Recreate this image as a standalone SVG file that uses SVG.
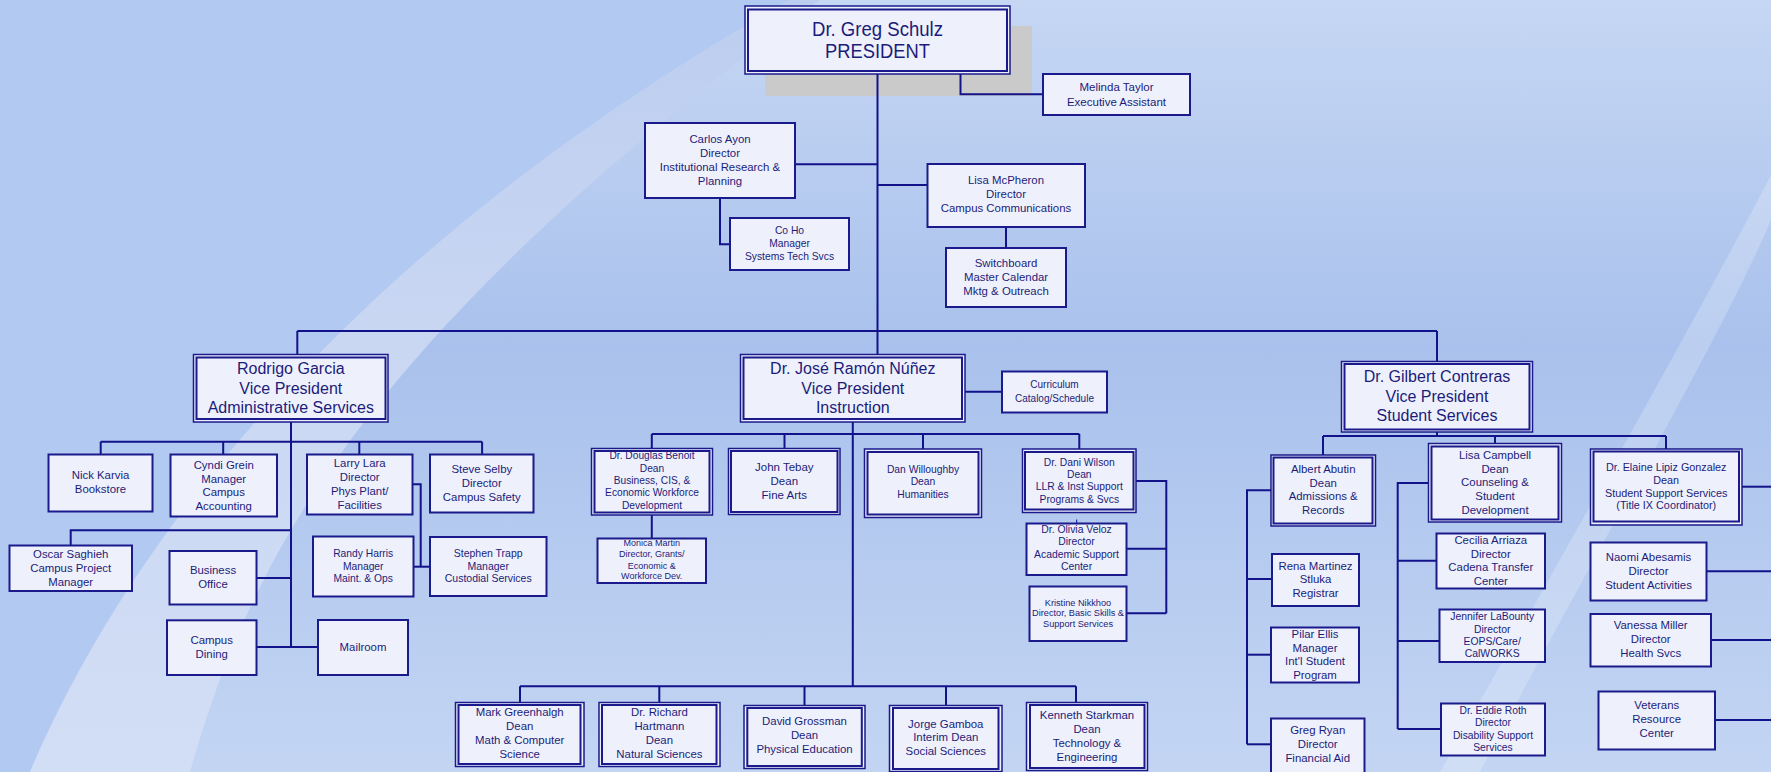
<svg xmlns="http://www.w3.org/2000/svg" width="1771" height="772" viewBox="0 0 1771 772">
<defs>
<linearGradient id="bgGrad" x1="0" y1="0" x2="0" y2="772" gradientUnits="userSpaceOnUse">
<stop offset="0" stop-color="#c6d7f4"/>
<stop offset="0.45" stop-color="#a9c1ec"/>
<stop offset="1" stop-color="#c3d5f3"/>
</linearGradient>
<linearGradient id="bandGrad" x1="0" y1="0" x2="0" y2="772" gradientUnits="userSpaceOnUse">
<stop offset="0" stop-color="#bccdef"/>
<stop offset="0.5" stop-color="#cbd8f3"/>
<stop offset="1" stop-color="#d2def5"/>
</linearGradient>
<style>
.b{fill:#eef1fb;stroke:#1a1a8c;stroke-width:2}
.bo{fill:#eef1fb;stroke:#1a1a8c;stroke-width:1.5}
.bi{fill:none;stroke:#1a1a8c;stroke-width:2}
.conn path{fill:none;stroke:#12128a;stroke-width:2}
text{font-family:"Liberation Sans",Arial,Helvetica,sans-serif;fill:#1c1c7a;text-anchor:middle}
.f16{font-size:16px}
.f115{font-size:11.5px}
.f114{font-size:11.4px}
.f108{font-size:10.8px}
.f105{font-size:10.5px}
.f104{font-size:10.4px}
.f103{font-size:10.3px}
.f102{font-size:10.2px}
.f10{font-size:10px}
.f92{font-size:9.2px}
.f9{font-size:9px}
</style>
</defs>
<g id="background">
<rect width="1771" height="772" fill="url(#bgGrad)"/>
<path d="M0 0 L790 0 C330 260 120 560 30 772 L0 772 Z" fill="#b2c9f2"/>
<path d="M790 0 C330 260 120 560 30 772 L190 772 C250 560 360 340 820 0 Z" fill="url(#bandGrad)"/>
<path d="M1771 175 C1690 330 1560 560 1440 772 L1480 772 C1590 560 1715 350 1771 220 Z" fill="#ffffff" opacity="0.22"/>
<rect x="765" y="26" width="267" height="70" fill="#cacaca"/>
</g>
<g class="conn" id="connectors">
<path d="M877.5 74 V354.5"/>
<path d="M960.5 74 V94.3 H1043"/>
<path d="M795 164.3 H877.5"/>
<path d="M720 198 V244.3 H730"/>
<path d="M877.5 185 H927.5"/>
<path d="M1006 227 V248"/>
<path d="M297.3 331 H1437"/>
<path d="M297.3 331 V354.5"/>
<path d="M1437 331 V361.5"/>
<path d="M291 422 V647"/>
<path d="M100.7 441.7 H482.1"/>
<path d="M100.7 441.7 V454.5"/>
<path d="M223.2 441.7 V454.5"/>
<path d="M359.3 441.7 V454.5"/>
<path d="M482.1 441.7 V454.5"/>
<path d="M291 530.3 H70.7 V545.5"/>
<path d="M256.5 578 H291"/>
<path d="M256.5 647 H318"/>
<path d="M412.5 484.3 H420.7 V566.7"/>
<path d="M413.5 566.7 H430"/>
<path d="M852.8 422 V686.3"/>
<path d="M965 391.7 H1002"/>
<path d="M651.8 434 H1079.3"/>
<path d="M651.8 434 V448.5"/>
<path d="M784.5 434 V448.5"/>
<path d="M923 434 V449"/>
<path d="M1079.3 434 V449"/>
<path d="M651.8 515 V538.5"/>
<path d="M1136 481 H1166.3 V613.3"/>
<path d="M1126.5 548.7 H1166.3"/>
<path d="M1126.5 613.3 H1166.3"/>
<path d="M1076.7 519.5 V523.5" style="stroke-width:1"/>
<path d="M520 686.3 H1076"/>
<path d="M520 686.3 V702.5"/>
<path d="M659.3 686.3 V702.5"/>
<path d="M804.5 686.3 V705.5"/>
<path d="M946 686.3 V705.5"/>
<path d="M1076 686.3 V702.5"/>
<path d="M1437 432 V436"/>
<path d="M1323 436 H1666"/>
<path d="M1323 436 V455"/>
<path d="M1495 436 V443.5"/>
<path d="M1666 436 V449"/>
<path d="M1271 490.3 H1247 V744.3"/>
<path d="M1247 579 H1272"/>
<path d="M1247 654.7 H1271"/>
<path d="M1247 744.3 H1271"/>
<path d="M1428.5 483 H1397.7 V729"/>
<path d="M1397.7 560.7 H1436.5"/>
<path d="M1397.7 641 H1439.5"/>
<path d="M1397.7 729 H1441"/>
<path d="M1742 486.7 H1771"/>
<path d="M1706.5 571.3 H1771"/>
<path d="M1711 640 H1771"/>
<path d="M1715 720 H1771"/>
</g>
<g id="president">
<rect class="bo" x="745" y="6" width="265" height="68"/>
<rect class="bi" x="748" y="9.5" width="259" height="61.5"/>
<text style="font-size:20px"><tspan x="877.5" y="35.5" textLength="131" lengthAdjust="spacingAndGlyphs">Dr. Greg Schulz</tspan><tspan x="877.5" y="58" textLength="105" lengthAdjust="spacingAndGlyphs">PRESIDENT</tspan></text>
</g>
<g id="melinda">
<rect class="b" x="1043" y="74" width="147" height="41"/>
<text class="f115"><tspan x="1116.5" y="91">Melinda Taylor</tspan><tspan x="1116.5" y="105.5">Executive Assistant</tspan></text>
</g>
<g id="carlos">
<rect class="b" x="645" y="123" width="150" height="75"/>
<text class="f114"><tspan x="720" y="142.5">Carlos Ayon</tspan><tspan x="720" y="156.5">Director</tspan><tspan x="720" y="170.5">Institutional Research &amp;</tspan><tspan x="720" y="184.5">Planning</tspan></text>
</g>
<g id="coho">
<rect class="b" x="730" y="218" width="119" height="52"/>
<text class="f103"><tspan x="789.5" y="234">Co Ho</tspan><tspan x="789.5" y="247">Manager</tspan><tspan x="789.5" y="259.5">Systems Tech Svcs</tspan></text>
</g>
<g id="lisa-mcpheron">
<rect class="b" x="927.5" y="164" width="157.5" height="63"/>
<text class="f114"><tspan x="1006" y="184">Lisa McPheron</tspan><tspan x="1006" y="198">Director</tspan><tspan x="1006" y="212">Campus Communications</tspan></text>
</g>
<g id="switchboard">
<rect class="b" x="946" y="248" width="120" height="59"/>
<text class="f114"><tspan x="1006" y="266.5">Switchboard</tspan><tspan x="1006" y="280.5">Master Calendar</tspan><tspan x="1006" y="294.5">Mktg &amp; Outreach</tspan></text>
</g>
<g id="rodrigo">
<rect class="bo" x="193.5" y="354.5" width="194.5" height="67.5"/>
<rect class="bi" x="196.5" y="357.5" width="189" height="61.5"/>
<text class="f16"><tspan x="290.8" y="374.3">Rodrigo Garcia</tspan><tspan x="290.8" y="394">Vice President</tspan><tspan x="290.8" y="413.3">Administrative Services</tspan></text>
</g>
<g id="jose">
<rect class="bo" x="740.5" y="354.5" width="224.5" height="67.5"/>
<rect class="bi" x="743.5" y="357.5" width="218.5" height="61.5"/>
<text class="f16"><tspan x="852.8" y="374.3">Dr. José Ramón Núñez</tspan><tspan x="852.8" y="393.5">Vice President</tspan><tspan x="852.8" y="412.7">Instruction</tspan></text>
</g>
<g id="curriculum">
<rect class="b" x="1002" y="371.5" width="105" height="41"/>
<text class="f10"><tspan x="1054.5" y="388.3">Curriculum</tspan><tspan x="1054.5" y="401.7">Catalog/Schedule</tspan></text>
</g>
<g id="gilbert">
<rect class="bo" x="1341.5" y="361.5" width="191" height="70.5"/>
<rect class="bi" x="1344.5" y="364" width="185" height="65.5"/>
<text class="f16"><tspan x="1437" y="382.3">Dr. Gilbert Contreras</tspan><tspan x="1437" y="401.7">Vice President</tspan><tspan x="1437" y="421.3">Student Services</tspan></text>
</g>
<g id="nick">
<rect class="b" x="48.5" y="454.5" width="104" height="57"/>
<text class="f114"><tspan x="100.5" y="479.3">Nick Karvia</tspan><tspan x="100.5" y="493.3">Bookstore</tspan></text>
</g>
<g id="cyndi">
<rect class="b" x="170.5" y="454.5" width="106.5" height="62"/>
<text class="f114"><tspan x="223.7" y="469.3">Cyndi Grein</tspan><tspan x="223.7" y="482.7">Manager</tspan><tspan x="223.7" y="496.3">Campus</tspan><tspan x="223.7" y="510.3">Accounting</tspan></text>
</g>
<g id="larry">
<rect class="b" x="307" y="454.5" width="105.5" height="60"/>
<text class="f114"><tspan x="359.7" y="467.3">Larry Lara</tspan><tspan x="359.7" y="481.3">Director</tspan><tspan x="359.7" y="495.3">Phys Plant/</tspan><tspan x="359.7" y="509.3">Facilities</tspan></text>
</g>
<g id="steve">
<rect class="b" x="430" y="454.5" width="103.5" height="58"/>
<text class="f114"><tspan x="481.8" y="473.3">Steve Selby</tspan><tspan x="481.8" y="487.3">Director</tspan><tspan x="481.8" y="501.3">Campus Safety</tspan></text>
</g>
<g id="oscar">
<rect class="b" x="9.5" y="545.5" width="122.5" height="45.5"/>
<text class="f114"><tspan x="70.7" y="558">Oscar Saghieh</tspan><tspan x="70.7" y="572.3">Campus Project</tspan><tspan x="70.7" y="586.3">Manager</tspan></text>
</g>
<g id="business-office">
<rect class="b" x="169.5" y="551" width="87" height="53.5"/>
<text class="f114"><tspan x="213" y="574.3">Business</tspan><tspan x="213" y="588.3">Office</tspan></text>
</g>
<g id="randy">
<rect class="b" x="313" y="536.5" width="100.5" height="60"/>
<text class="f103"><tspan x="363.2" y="556.7">Randy Harris</tspan><tspan x="363.2" y="570">Manager</tspan><tspan x="363.2" y="582">Maint. &amp; Ops</tspan></text>
</g>
<g id="stephen">
<rect class="b" x="430" y="537" width="116.5" height="59"/>
<text class="f105"><tspan x="488.2" y="556.7">Stephen Trapp</tspan><tspan x="488.2" y="570">Manager</tspan><tspan x="488.2" y="582">Custodial Services</tspan></text>
</g>
<g id="campus-dining">
<rect class="b" x="167" y="620.3" width="89.5" height="54.7"/>
<text class="f114"><tspan x="211.7" y="644">Campus</tspan><tspan x="211.7" y="658.3">Dining</tspan></text>
</g>
<g id="mailroom">
<rect class="b" x="318" y="620" width="90" height="55"/>
<text class="f114"><tspan x="363" y="651.3">Mailroom</tspan></text>
</g>
<g id="douglas">
<rect class="bo" x="591.5" y="448.5" width="121" height="66.5"/>
<rect class="bi" x="594.5" y="451" width="115" height="61.5"/>
<text class="f102"><tspan x="652" y="459">Dr. Douglas Benoit</tspan><tspan x="652" y="471.7">Dean</tspan><tspan x="652" y="484">Business, CIS, &amp;</tspan><tspan x="652" y="496">Economic Workforce</tspan><tspan x="652" y="508.7">Development</tspan></text>
</g>
<g id="monica">
<rect class="b" x="597.5" y="538.5" width="108.5" height="44.5"/>
<text class="f9"><tspan x="651.7" y="546">Monica Martin</tspan><tspan x="651.7" y="557.3">Director, Grants/</tspan><tspan x="651.7" y="568.7">Economic &amp;</tspan><tspan x="651.7" y="579.3">Workforce Dev.</tspan></text>
</g>
<g id="john">
<rect class="bo" x="728.5" y="448.5" width="111.5" height="66"/>
<rect class="bi" x="731" y="451" width="106.5" height="61"/>
<text class="f115"><tspan x="784.3" y="470.7">John Tebay</tspan><tspan x="784.3" y="484.7">Dean</tspan><tspan x="784.3" y="498.7">Fine Arts</tspan></text>
</g>
<g id="dan">
<rect class="bo" x="864.5" y="449" width="117" height="68.5"/>
<rect class="bi" x="867.5" y="452" width="111" height="62.5"/>
<text class="f103"><tspan x="923" y="473.3">Dan Willoughby</tspan><tspan x="923" y="485.3">Dean</tspan><tspan x="923" y="498">Humanities</tspan></text>
</g>
<g id="dani">
<rect class="bo" x="1022.5" y="449" width="113.5" height="63.5"/>
<rect class="bi" x="1025" y="452" width="108.5" height="57.5"/>
<text class="f103"><tspan x="1079.3" y="466">Dr. Dani Wilson</tspan><tspan x="1079.3" y="477.7">Dean</tspan><tspan x="1079.3" y="490.3">LLR &amp; Inst Support</tspan><tspan x="1079.3" y="503">Programs &amp; Svcs</tspan></text>
</g>
<g id="olivia">
<rect class="b" x="1026.5" y="523.5" width="100" height="51.5"/>
<text class="f104"><tspan x="1076.5" y="532.7">Dr. Olivia Veloz</tspan><tspan x="1076.5" y="544.7">Director</tspan><tspan x="1076.5" y="558.3">Academic Support</tspan><tspan x="1076.5" y="570">Center</tspan></text>
</g>
<g id="kristine">
<rect class="b" x="1029.5" y="586.5" width="97" height="54.5"/>
<text class="f92"><tspan x="1078" y="605.7">Kristine Nikkhoo</tspan><tspan x="1078" y="616">Director, Basic Skills &amp;</tspan><tspan x="1078" y="626.7">Support Services</tspan></text>
</g>
<g id="mark">
<rect class="bo" x="455.5" y="702.5" width="128.5" height="64"/>
<rect class="bi" x="458.5" y="705" width="122" height="59"/>
<text class="f114"><tspan x="519.7" y="716.3">Mark Greenhalgh</tspan><tspan x="519.7" y="730.3">Dean</tspan><tspan x="519.7" y="744">Math &amp; Computer</tspan><tspan x="519.7" y="758">Science</tspan></text>
</g>
<g id="richard">
<rect class="bo" x="599" y="702.5" width="121" height="64"/>
<rect class="bi" x="602" y="705" width="114.5" height="59"/>
<text class="f114"><tspan x="659.4" y="716.3">Dr. Richard</tspan><tspan x="659.4" y="730.3">Hartmann</tspan><tspan x="659.4" y="744">Dean</tspan><tspan x="659.4" y="758">Natural Sciences</tspan></text>
</g>
<g id="david">
<rect class="bo" x="744" y="705.5" width="121" height="63"/>
<rect class="bi" x="747.3" y="708" width="114.5" height="58"/>
<text class="f114"><tspan x="804.5" y="725.3">David Grossman</tspan><tspan x="804.5" y="739.3">Dean</tspan><tspan x="804.5" y="753">Physical Education</tspan></text>
</g>
<g id="jorge">
<rect class="bo" x="889.5" y="705.5" width="112.5" height="66"/>
<rect class="bi" x="893" y="708" width="105.5" height="61"/>
<text class="f114"><tspan x="945.8" y="727.7">Jorge Gamboa</tspan><tspan x="945.8" y="741.3">Interim Dean</tspan><tspan x="945.8" y="754.7">Social Sciences</tspan></text>
</g>
<g id="kenneth">
<rect class="bo" x="1026.5" y="702.5" width="121" height="68"/>
<rect class="bi" x="1030" y="705" width="114.5" height="63"/>
<text class="f114"><tspan x="1087" y="719.3">Kenneth Starkman</tspan><tspan x="1087" y="733.3">Dean</tspan><tspan x="1087" y="747.3">Technology &amp;</tspan><tspan x="1087" y="761.3">Engineering</tspan></text>
</g>
<g id="albert">
<rect class="bo" x="1271" y="455" width="104.5" height="71"/>
<rect class="bi" x="1273.5" y="457.5" width="99" height="66"/>
<text class="f114"><tspan x="1323.2" y="472.7">Albert Abutin</tspan><tspan x="1323.2" y="486.7">Dean</tspan><tspan x="1323.2" y="500.3">Admissions &amp;</tspan><tspan x="1323.2" y="514.3">Records</tspan></text>
</g>
<g id="rena">
<rect class="b" x="1272" y="554" width="87" height="52"/>
<text class="f114"><tspan x="1315.5" y="570">Rena Martinez</tspan><tspan x="1315.5" y="583.3">Stluka</tspan><tspan x="1315.5" y="597">Registrar</tspan></text>
</g>
<g id="pilar">
<rect class="b" x="1271" y="627.5" width="88" height="55"/>
<text class="f114"><tspan x="1315" y="638">Pilar Ellis</tspan><tspan x="1315" y="651.7">Manager</tspan><tspan x="1315" y="665">Int'l Student</tspan><tspan x="1315" y="679">Program</tspan></text>
</g>
<g id="greg-ryan">
<rect class="b" x="1271" y="718.5" width="93.5" height="58"/>
<text class="f114"><tspan x="1317.7" y="734">Greg Ryan</tspan><tspan x="1317.7" y="748">Director</tspan><tspan x="1317.7" y="761.7">Financial Aid</tspan></text>
</g>
<g id="lisa-campbell">
<rect class="bo" x="1428.5" y="443.5" width="133" height="78.5"/>
<rect class="bi" x="1431.5" y="446.5" width="127" height="73"/>
<text class="f114"><tspan x="1495" y="459">Lisa Campbell</tspan><tspan x="1495" y="473">Dean</tspan><tspan x="1495" y="486.3">Counseling &amp;</tspan><tspan x="1495" y="500">Student</tspan><tspan x="1495" y="514">Development</tspan></text>
</g>
<g id="cecilia">
<rect class="b" x="1436.5" y="533.5" width="108.5" height="55"/>
<text class="f114"><tspan x="1490.8" y="544">Cecilia Arriaza</tspan><tspan x="1490.8" y="558">Director</tspan><tspan x="1490.8" y="571">Cadena Transfer</tspan><tspan x="1490.8" y="585">Center</tspan></text>
</g>
<g id="jennifer">
<rect class="b" x="1439.5" y="609.5" width="105.5" height="52.5"/>
<text class="f104"><tspan x="1492.2" y="620">Jennifer LaBounty</tspan><tspan x="1492.2" y="633">Director</tspan><tspan x="1492.2" y="645">EOPS/Care/</tspan><tspan x="1492.2" y="656.7">CalWORKS</tspan></text>
</g>
<g id="eddie">
<rect class="b" x="1441" y="703.5" width="104" height="52"/>
<text class="f103"><tspan x="1493" y="714">Dr. Eddie Roth</tspan><tspan x="1493" y="726">Director</tspan><tspan x="1493" y="739">Disability Support</tspan><tspan x="1493" y="751">Services</tspan></text>
</g>
<g id="elaine">
<rect class="bo" x="1590.5" y="449" width="151.5" height="76"/>
<rect class="bi" x="1593.5" y="451.5" width="145.5" height="70"/>
<text class="f108"><tspan x="1666.2" y="470.7">Dr. Elaine Lipiz Gonzalez</tspan><tspan x="1666.2" y="483.7">Dean</tspan><tspan x="1666.2" y="496.7">Student Support Services</tspan><tspan x="1666.2" y="509.3">(Title IX Coordinator)</tspan></text>
</g>
<g id="naomi">
<rect class="b" x="1590.5" y="542.5" width="116" height="58"/>
<text class="f114"><tspan x="1648.5" y="560.7">Naomi Abesamis</tspan><tspan x="1648.5" y="574.7">Director</tspan><tspan x="1648.5" y="588.7">Student Activities</tspan></text>
</g>
<g id="vanessa">
<rect class="b" x="1590.5" y="614" width="120.5" height="52.5"/>
<text class="f114"><tspan x="1650.7" y="629.3">Vanessa Miller</tspan><tspan x="1650.7" y="643.3">Director</tspan><tspan x="1650.7" y="657.3">Health Svcs</tspan></text>
</g>
<g id="veterans">
<rect class="b" x="1598.5" y="691.5" width="116.5" height="58"/>
<text class="f114"><tspan x="1656.7" y="709.3">Veterans</tspan><tspan x="1656.7" y="723.3">Resource</tspan><tspan x="1656.7" y="737.3">Center</tspan></text>
</g>
</svg>
